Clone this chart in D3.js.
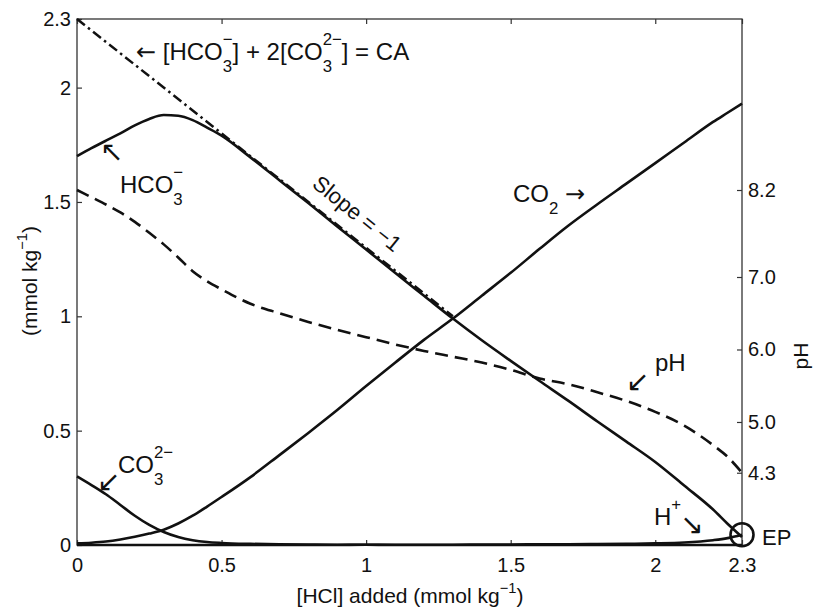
<!DOCTYPE html>
<html>
<head>
<meta charset="utf-8">
<script src="https://cdn.jsdelivr.net/npm/d3@7"></script>
<style>
  body { margin: 0; background: #fff; }
  text { font-family: "Liberation Sans", Arial, sans-serif; fill: #111; white-space: pre; }
  text.arrow { font-family: "DejaVu Sans", sans-serif; }
</style>
</head>
<body>
<svg></svg>
<script>
// HCl added (mmol/kg) - common x grid
const hclAdded = [0, 0.05, 0.1, 0.15, 0.2, 0.25, 0.3, 0.35, 0.4, 0.45, 0.5, 0.6, 0.7, 0.8, 0.9,
                  1.0, 1.1, 1.2, 1.3, 1.4, 1.5, 1.6, 1.7, 1.8, 1.9, 2.0, 2.1, 2.2, 2.25, 2.3];
const hco3 = [1.70, 1.735, 1.768, 1.80, 1.835, 1.863, 1.88, 1.877, 1.858, 1.825, 1.79, 1.695, 1.595, 1.495, 1.393,
              1.292, 1.19, 1.09, 0.99, 0.895, 0.805, 0.717, 0.63, 0.54, 0.452, 0.363, 0.26, 0.155, 0.093, 0.035];
const co3 = [0.30, 0.262, 0.222, 0.175, 0.128, 0.088, 0.057, 0.035, 0.021, 0.013, 0.009, 0.005, 0.003, 0.002, 0.001,
             0.001, 0, 0, 0, 0, 0, 0, 0, 0, 0, 0, 0, 0, 0, 0];
const co2 = [0.007, 0.01, 0.015, 0.024, 0.036, 0.05, 0.067, 0.094, 0.128, 0.168, 0.21, 0.297, 0.393, 0.49, 0.59,
             0.695, 0.797, 0.897, 0.99, 1.09, 1.19, 1.295, 1.397, 1.49, 1.58, 1.67, 1.76, 1.85, 1.89, 1.93];
const hplus = [0, 0, 0, 0, 0, 0, 0, 0, 0, 0, 0, 0, 0, 0, 0,
               0.001, 0.001, 0.001, 0.001, 0.002, 0.002, 0.003, 0.003, 0.004, 0.005, 0.007, 0.011, 0.021, 0.03, 0.045];
const pH = [8.2, 8.1, 8.0, 7.89, 7.76, 7.61, 7.45, 7.27, 7.08, 6.94, 6.83, 6.63, 6.50, 6.38, 6.27,
            6.17, 6.07, 5.98, 5.90, 5.82, 5.72, 5.60, 5.52, 5.41, 5.29, 5.14, 4.95, 4.68, 4.52, 4.3];
// carbonate alkalinity line, slope -1
const caX = [0, 1.3];
const caY = [2.3, 1.0];

const xTicks = [0, 0.5, 1, 1.5, 2, 2.3];
const yTicks = [0, 0.5, 1, 1.5, 2, 2.3];
const tickLabels = ["0", "0.5", "1", "1.5", "2", "2.3"];
const phTicks = [4.3, 5.0, 6.0, 7.0, 8.2];

const svgSize = { width: 816, height: 612 };
const margin = { top: 19, right: 74, bottom: 67, left: 77 };
const width = svgSize.width - margin.left - margin.right;
const height = svgSize.height - margin.top - margin.bottom;

const svg = d3.select("svg").attr("width", svgSize.width).attr("height", svgSize.height);
const chart = svg.append("g").attr("transform", `translate(${margin.left},${margin.top})`);

const x = d3.scaleLinear().domain([0, 2.3]).range([0, width]);
const y = d3.scaleLinear().domain([0, 2.3]).range([height, 0]);
// pH axis on the right (4.3 .. 8.2 ticks)
const yPh = d3.scaleLinear().domain([3.303, 10.559]).range([height, 0]);

// axes, ticks pointing inward
function styleAxis(g) {
  g.select(".domain").remove();
  g.selectAll("line").attr("stroke", "#333").attr("stroke-width", 1.2);
  g.selectAll("text").style("font-size", "20px").attr("fill", "#111");
}
chart.append("g").attr("transform", `translate(0,${height})`)
  .call(d3.axisBottom(x).tickValues(xTicks).tickSize(-5).tickPadding(13)
    .tickFormat((d, i) => tickLabels[i]))
  .call(styleAxis);
chart.append("g")
  .call(d3.axisTop(x).tickValues(xTicks).tickSize(-5).tickFormat(""))
  .call(styleAxis);
chart.append("g")
  .call(d3.axisLeft(y).tickValues(yTicks).tickSize(-5).tickPadding(6)
    .tickFormat((d, i) => tickLabels[i]))
  .call(styleAxis);
chart.append("g").attr("transform", `translate(${width},0)`)
  .call(d3.axisRight(yPh).tickValues(phTicks).tickSize(-5).tickPadding(6)
    .tickFormat(d3.format(".1f")))
  .call(styleAxis);

chart.append("rect")
  .attr("width", width).attr("height", height)
  .attr("fill", "none").attr("stroke", "#333").attr("stroke-width", 1.3);

// curves
const line = d3.line().x(d => x(d[0])).y(d => y(d[1])).curve(d3.curveMonotoneX);
const phLine = d3.line().x(d => x(d[0])).y(d => yPh(d[1])).curve(d3.curveMonotoneX);
const zip = arr => hclAdded.map((h, i) => [h, arr[i]]);

chart.append("path").datum(caX.map((h, i) => [h, caY[i]])).attr("d", line)
  .attr("fill", "none").attr("stroke", "#111").attr("stroke-width", 2.5)
  .attr("stroke-dasharray", "10,4,2.5,4");

[co3, hplus, co2, hco3].forEach(s => {
  chart.append("path").datum(zip(s)).attr("d", line)
    .attr("fill", "none").attr("stroke", "#111").attr("stroke-width", 2.6)
    .attr("stroke-linejoin", "round");
});

chart.append("path").datum(zip(pH)).attr("d", phLine)
  .attr("fill", "none").attr("stroke", "#111").attr("stroke-width", 2.6)
  .attr("stroke-dasharray", "13,7");

// end point
chart.append("circle")
  .attr("cx", x(2.3)).attr("cy", y(hplus[hplus.length - 1]))
  .attr("r", 11.5).attr("fill", "none").attr("stroke", "#111").attr("stroke-width", 2.6);

// text with sub/superscripts (separate pieces, measured as we go)
function rich(parent, px, py, parts, size, opts) {
  opts = opts || {};
  const g = parent.append("g")
    .attr("transform", `translate(${px},${py})` + (opts.rotate ? ` rotate(${opts.rotate})` : ""));
  const small = size * 0.7;
  let cx = 0;
  parts.forEach(p => {
    if (typeof p === "string") {
      const t = g.append("text").attr("x", cx).style("font-size", size + "px").text(p);
      cx += t.node().getComputedTextLength();
    } else if (p.arrow) {
      const t = g.append("text").attr("class", "arrow").attr("x", cx)
        .style("font-size", (p.size || size) + "px").text(p.arrow);
      cx += t.node().getComputedTextLength();
    } else {
      let w = 0;
      if (p.sub) {
        const s = g.append("text").attr("x", cx).attr("y", size * 0.5).style("font-size", small + "px").text(p.sub);
        w = Math.max(w, s.node().getComputedTextLength());
      }
      if (p.sup) {
        const s = g.append("text").attr("x", cx).attr("y", -size * (opts.supUp || 0.62)).style("font-size", small + "px").text(p.sup);
        w = Math.max(w, s.node().getComputedTextLength());
      }
      cx += w;
    }
  });
  if (opts.anchor === "middle") {
    g.selectAll("text").attr("x", function () { return +this.getAttribute("x") - cx / 2; });
  }
  return g;
}

// annotations
rich(svg, 136, 60, [{ arrow: "\u2190" }, " [HCO", { sub: "3", sup: "\u2212" }, "] + 2[CO", { sub: "3", sup: "2\u2212" }, "] = CA"], 24);
rich(svg, 100, 161, [{ arrow: "\u2196", size: 28 }], 24);
rich(svg, 120, 193, ["HCO", { sub: "3", sup: "\u2212" }], 24);
rich(svg, 311, 186, ["Slope = \u22121"], 22, { rotate: 39 });
rich(svg, 513, 202, ["CO", { sub: "2" }, " ", { arrow: "\u2192" }], 24);
rich(svg, 626, 391, [{ arrow: "\u2199", size: 28 }], 24);
rich(svg, 655, 371, ["pH"], 24);
rich(svg, 654, 525, ["H", { sup: "+" }], 24);
rich(svg, 680, 534, [{ arrow: "\u2198", size: 28 }], 24);
rich(svg, 97, 491, [{ arrow: "\u2199", size: 28 }], 24);
rich(svg, 118, 473, ["CO", { sub: "3", sup: "2\u2212" }], 24);
rich(svg, 762, 545, ["EP"], 22);

// axis titles
rich(svg, 410, 603, ["[HCl] added (mmol kg", { sup: "\u22121" }, ")"], 21, { anchor: "middle", supUp: 0.5 });
rich(svg, 37, 281, ["(mmol kg", { sup: "\u22121" }, ")"], 21, { anchor: "middle", rotate: -90, supUp: 0.5 });
rich(svg, 808, 356, ["pH"], 21, { anchor: "middle", rotate: -90 });
</script>
</body>
</html>
